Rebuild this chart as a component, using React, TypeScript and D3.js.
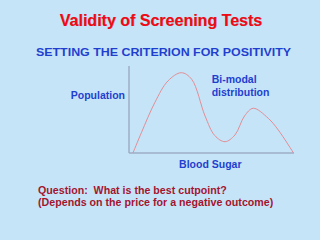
import React from "react";
import * as d3 from "d3";

const curveX = [2.4, 7.5, 15.6, 23.6, 31.7, 38.0, 46.1, 52.0, 58.2, 64.2, 70.0, 75.3, 84.4, 90.5, 99.7];
const curveY = [0, 23.3, 57.8, 82.8, 92.3, 84.7, 42.5, 20.0, 13.0, 20.7, 42.5, 51.4, 39.9, 26.4, 0];

const title = "Validity of Screening Tests";
const subtitle = "SETTING THE CRITERION FOR POSITIVITY";
const yLabel = "Population";
const xLabel = "Blood Sugar";
const noteLines = ["Bi-modal", "distribution"];
const questionLines = ["Question:  What is the best cutpoint?", "(Depends on the price for a negative outcome)"];
const questionWidths = [188.7, 235.3];

const FONT = "'Liberation Sans', Arial, sans-serif";
const BLUE = "#1f3fcf";
const DARKRED = "#a3152f";

export default function App() {
  const x = d3.scaleLinear().domain([0, 100]).range([129, 294]);
  const y = d3.scaleLinear().domain([0, 100]).range([153, 66]);
  const pts: [number, number][] = curveX.map((v, i) => [v, curveY[i]]);
  const line = d3
    .line<[number, number]>()
    .x((d) => x(d[0]))
    .y((d) => y(d[1]))
    .curve(d3.curveCatmullRom.alpha(0.5));
  const [x0, x1] = x.range();
  const [y0, y1] = y.range();

  return (
    <svg
      width={320}
      height={240}
      style={{ position: "absolute", left: 0, top: 0, display: "block" }}
      fontFamily={FONT}
    >
      <rect width={320} height={240} fill="#c6e4f7" />
      <text x={161.5} y={26.2} textAnchor="middle" fontSize={16} fontWeight="bold" fill="#5a0000" opacity={0.35}>
        {title}
      </text>
      <text x={161} y={25.5} textAnchor="middle" fontSize={16} fontWeight="bold" fill="#f00a14">
        {title}
      </text>
      <text x={36} y={55.5} fontSize={11.8} fontWeight="bold" fill={BLUE} textLength={255} lengthAdjust="spacingAndGlyphs">
        {subtitle}
      </text>
      <line x1={x0} x2={x0} y1={y0} y2={y1} stroke="#9caec6" strokeWidth={1.5} />
      <line x1={x0} x2={x1} y1={y0} y2={y0} stroke="#9caec6" strokeWidth={1.5} />
      <path d={line(pts) || ""} fill="none" stroke="#e38d96" strokeWidth={1} />
      <text x={125} y={99.3} textAnchor="end" fontSize={10.5} fontWeight="bold" fill={BLUE}>
        {yLabel}
      </text>
      {noteLines.map((t, i) => (
        <text key={t} x={211.7} y={83.3 + i * 12.7} fontSize={10.5} fontWeight="bold" fill={BLUE}>
          {t}
        </text>
      ))}
      <text x={210.3} y={168} textAnchor="middle" fontSize={10.5} fontWeight="bold" fill={BLUE}>
        {xLabel}
      </text>
      {questionLines.map((t, i) => (
        <text key={i} x={38} y={194.3 + i * 11.9} fontSize={10.5} fontWeight="bold" fill={DARKRED} style={{ whiteSpace: "pre" }} textLength={questionWidths[i]} lengthAdjust="spacingAndGlyphs">
          {t}
        </text>
      ))}
    </svg>
  );
}
